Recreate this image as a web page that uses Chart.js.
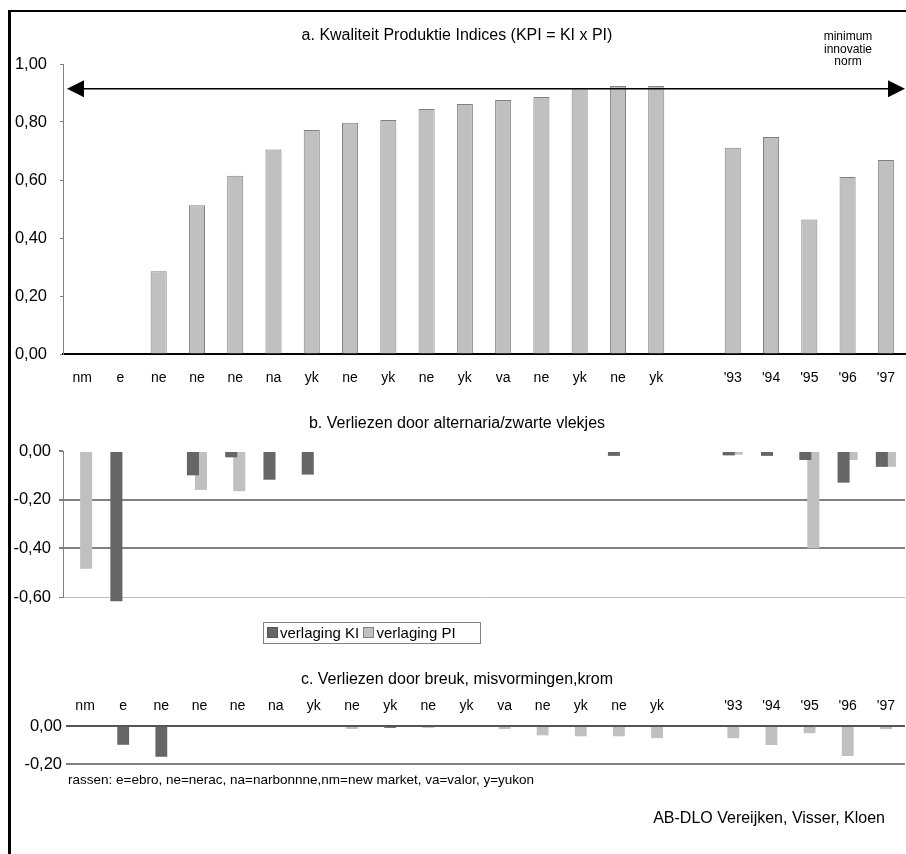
<!DOCTYPE html>
<html lang="nl">
<head>
<meta charset="utf-8">
<title>Kwaliteit Produktie Indices</title>
<script src="https://cdn.jsdelivr.net/npm/chart.js@4.4.0/dist/chart.umd.min.js"></script>
<style>
  html, body { margin: 0; padding: 0; background: #fff; }
  body {
    width: 906px; height: 854px; position: relative; overflow: hidden;
    font-family: "Liberation Sans", Arial, sans-serif; color: #000;
  }
  canvas { position: absolute; left: 0; top: 0; }
  .kader {
    position: absolute; left: 8px; top: 10px; width: 940px; height: 900px;
    border-left: 3px solid #000; border-top: 2px solid #000;
  }
  .titel {
    position: absolute; left: 8px; width: 898px; text-align: center;
    font-size: 16px; line-height: 18px; white-space: nowrap;
  }
  .norm {
    position: absolute; left: 800px; width: 96px; top: 30px; text-align: center;
    font-size: 12px; line-height: 12.5px;
  }
  .legenda {
    position: absolute; left: 263px; top: 622px; width: 213px; height: 20px;
    border: 1px solid #808080; font-size: 15px; line-height: 20px;
    white-space: nowrap; padding-left: 3px; box-sizing: content-box;
  }
  .legenda i {
    display: inline-block; width: 9px; height: 9px; margin-right: 2px;
    border: 1px solid #555; vertical-align: 0px;
  }
  .voet { position: absolute; white-space: nowrap; }
</style>
</head>
<body>
<div class="kader"></div>
<canvas id="grafiekA" width="906" height="854"></canvas>
<canvas id="grafiekB" width="906" height="854"></canvas>
<canvas id="grafiekC" width="906" height="854"></canvas>

<div class="titel" style="top:26px">a. Kwaliteit Produktie Indices (KPI = KI x PI)</div>
<div class="norm">minimum<br>innovatie<br>norm</div>
<div class="titel" style="top:414px">b. Verliezen door alternaria/zwarte vlekjes</div>
<div class="legenda" id="legenda"></div>
<div class="titel" style="top:670px">c. Verliezen door breuk, misvormingen,krom</div>
<div class="voet" style="left:68px; top:772px; font-size:13.5px; line-height:16px">rassen: e=ebro, ne=nerac, na=narbonnne,nm=new market, va=valor, y=yukon</div>
<div class="voet" style="right:21px; top:809px; font-size:16px; line-height:18px">AB-DLO Vereijken, Visser, Kloen</div>

<script>
// ---------- data ----------
const rassen = ["nm", "e", "ne", "ne", "ne", "na", "yk", "ne", "yk", "ne", "yk", "va",
  "ne", "yk", "ne", "yk", "", "'93", "'94", "'95", "'96", "'97"];

// a. KPI
const kpiWaarden = [null, null, 0.285, 0.513, 0.615, 0.705, 0.772, 0.797, 0.807, 0.845, 0.862,
  0.876, 0.886, 0.917, 0.924, 0.924, null, 0.711, 0.748, 0.464, 0.610, 0.669];
const normWaarde = 0.915;

// b. alternaria / zwarte vlekjes
const alternariaKI = [0, -0.617, 0, -0.100, -0.026, -0.118, -0.097, 0, 0, 0, 0, 0,
  0, 0, -0.020, 0, null, -0.018, -0.020, -0.037, -0.130, -0.065];
const alternariaPI = [-0.484, 0, 0, -0.160, -0.165, 0, 0, 0, 0, 0, 0, 0,
  0, 0, 0, 0, null, -0.015, 0, -0.400, -0.037, -0.065];

// c. breuk, misvormingen, krom
const breukKI = [0, -0.099, -0.162, 0, 0, 0, 0, 0, -0.010, 0, 0, 0,
  0, 0, 0, 0, null, 0, 0, 0, 0, -0.016];
const breukPI = [0, 0, 0, 0, 0, 0, 0, -0.016, 0, -0.010, 0, -0.016,
  -0.049, -0.054, -0.054, -0.064, null, -0.064, -0.100, -0.038, -0.158, -0.016];

const reeksen = ["verlaging KI", "verlaging PI"];
const ticksA = [0, 0.2, 0.4, 0.6, 0.8, 1.0];
const ticksB = [0, -0.2, -0.4, -0.6];
const ticksC = [0, -0.2];

// ---------- opmaak ----------
const kleurKI = "#666666";
const kleurPI = "#c0c0c0";
const tickFont = { size: 16.5 };

Chart.defaults.font.family = '"Liberation Sans", Arial, sans-serif';
Chart.defaults.color = "#000";

const komma = (v) => v.toFixed(2).replace(".", ",");
const zetTicks = (lijst) => (s) => { s.ticks = lijst.map((v) => ({ value: v })); };

const basis = {
  responsive: false,
  animation: false,
  devicePixelRatio: 1,
  plugins: { legend: { display: false }, tooltip: { enabled: false } },
};

// pijl voor de minimum innovatie norm
const normPijl = {
  id: "normPijl",
  afterDatasetsDraw(chart) {
    const { ctx, chartArea, scales } = chart;
    const y = scales.y.getPixelForValue(normWaarde);
    const links = chartArea.left + 4;
    const rechts = chartArea.right;
    ctx.save();
    ctx.strokeStyle = "#000";
    ctx.lineWidth = 1.5;
    ctx.beginPath();
    ctx.moveTo(links + 10, y);
    ctx.lineTo(rechts - 10, y);
    ctx.stroke();
    ctx.fillStyle = "#000";
    ctx.beginPath();
    ctx.moveTo(links, y);
    ctx.lineTo(links + 17, y - 8.5);
    ctx.lineTo(links + 17, y + 8.5);
    ctx.closePath();
    ctx.fill();
    ctx.beginPath();
    ctx.moveTo(rechts, y);
    ctx.lineTo(rechts - 17, y - 8.5);
    ctx.lineTo(rechts - 17, y + 8.5);
    ctx.closePath();
    ctx.fill();
    ctx.restore();
  },
};

// ---------- a. KPI ----------
new Chart(document.getElementById("grafiekA"), {
  type: "bar",
  data: {
    labels: rassen,
    datasets: [{
      data: kpiWaarden,
      backgroundColor: kleurPI,
      borderColor: "#808080",
      borderWidth: 1,
      categoryPercentage: 1,
      barPercentage: 0.42,
    }],
  },
  options: {
    ...basis,
    layout: { padding: { top: 64, left: 0, right: 1, bottom: 460 } },
    scales: {
      x: {
        grid: { display: false, drawTicks: false, tickLength: 0 },
        border: { color: "#000", width: 2 },
        // kleine padding + grote regelhoogte: labels lager zonder de rechterrand te verschuiven
        ticks: { font: { size: 14, lineHeight: 3.0 }, padding: 3, autoSkip: false, maxRotation: 0 },
        afterFit: (s) => { s.height = 40; },
      },
      y: {
        min: 0, max: 1,
        afterBuildTicks: zetTicks(ticksA),
        ticks: { callback: komma, font: tickFont, padding: 13 },
        grid: { drawOnChartArea: false, drawTicks: true, tickLength: 3, color: "#808080" },
        border: { color: "#808080", width: 1 },
        afterFit: (s) => { s.width = 63; },
      },
    },
  },
  plugins: [normPijl],
});

// ---------- b. alternaria ----------
new Chart(document.getElementById("grafiekB"), {
  type: "bar",
  data: {
    labels: rassen,
    datasets: [
      { label: reeksen[0], data: alternariaKI, backgroundColor: kleurKI, borderWidth: 0,
        categoryPercentage: 0.42, barPercentage: 1.5, clip: false },
      { label: reeksen[1], data: alternariaPI, backgroundColor: kleurPI, borderWidth: 0,
        categoryPercentage: 0.42, barPercentage: 1.5, clip: false },
    ],
  },
  options: {
    ...basis,
    layout: { padding: { top: 451, left: 0, right: 1, bottom: 257 } },
    scales: {
      x: { display: false },
      y: {
        min: -0.6, max: 0,
        afterBuildTicks: zetTicks(ticksB),
        ticks: { callback: komma, font: tickFont, padding: 8 },
        grid: {
          color: (c) => c.tick.value === 0 ? "rgba(0,0,0,0)" : (c.tick.value === -0.6 ? "#c0c0c0" : "#808080"),
          lineWidth: (c) => c.tick.value === -0.6 ? 1 : 2,
          tickColor: "#808080",
          tickLength: 4,
        },
        border: { color: "#808080", width: 1 },
        afterFit: (s) => { s.width = 63; },
      },
    },
  },
});

// ---------- c. breuk ----------
new Chart(document.getElementById("grafiekC"), {
  type: "bar",
  data: {
    labels: rassen,
    datasets: [
      { label: reeksen[1], data: breukPI, backgroundColor: kleurPI, borderWidth: 0,
        grouped: false, categoryPercentage: 1, barPercentage: 0.31 },
      { label: reeksen[0], data: breukKI, backgroundColor: kleurKI, borderWidth: 0,
        grouped: false, categoryPercentage: 1, barPercentage: 0.31 },
    ],
  },
  options: {
    ...basis,
    layout: { padding: { top: 696, left: 0, right: 1, bottom: 90 } },
    scales: {
      x: {
        position: "top",
        grid: { display: false, drawTicks: false, tickLength: 0 },
        border: { display: false },
        ticks: { font: { size: 14 }, padding: 11, autoSkip: false, maxRotation: 0 },
        afterFit: (s) => { s.height = 30; },
      },
      y: {
        min: -0.2, max: 0,
        afterBuildTicks: zetTicks(ticksC),
        ticks: { callback: komma, font: tickFont, padding: 4 },
        grid: {
          color: (c) => c.tick.value === 0 ? "#555555" : "#808080",
          lineWidth: 2,
          drawTicks: false,
        },
        border: { display: false },
        afterFit: (s) => { s.width = 66; },
      },
    },
  },
});

// legenda voor b
document.getElementById("legenda").innerHTML =
  '<i style="background:' + kleurKI + '"></i>' + reeksen[0] +
  ' <i style="background:' + kleurPI + ';border-color:#808080"></i>' + reeksen[1];
</script>
</body>
</html>
